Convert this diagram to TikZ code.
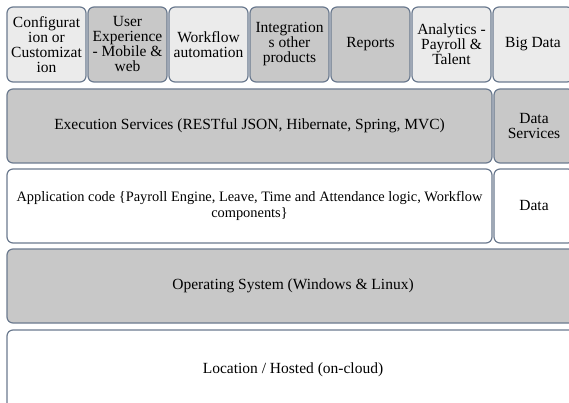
\documentclass[tikz,border=0pt]{standalone}
\usepackage{fontspec}
\setmainfont{Liberation Serif}
\newfontfamily\boxfont{Liberation Serif}
\usetikzlibrary{positioning}
\definecolor{edge}{RGB}{107,122,143}
\definecolor{lite}{RGB}{235,235,235}
\definecolor{dark}{RGB}{200,200,200}
\tikzset{
  box/.style = {draw=edge, line width=1.2pt, rounded corners=6pt,
    align=center, inner sep=0pt, font=\boxfont\fontsize{15.5}{15}\selectfont},
  cell/.style = {box, minimum width=79pt, minimum height=75pt},
  litebox/.style = {cell, fill=lite},
  darkbox/.style = {cell, fill=dark},
  wide/.style = {box, minimum width=485pt, minimum height=74pt},
  full/.style = {box, minimum width=572pt, minimum height=74pt}
}

\begin{document}
\begin{tikzpicture}[x=1pt,y=-1pt]
\useasboundingbox (0,0) rectangle (569,403);
\clip (0,0) rectangle (569,403);
% top row of features
\node [litebox] (cfg) at (46.5,44.5) {Configurat\\ion or\\Customizat\\ion};
\node [darkbox] (ux) at (127.5,44.5) {User\\Experience\\- Mobile \&\\web};
\node [litebox] (wf) at (208.5,44.5) {Workflow\\automation};
\node [darkbox] (intg) at (289.5,44.5) {Integration\\s other\\products};
\node [darkbox] (rep) at (370.5,44.5) {Reports};
\node [litebox] (ana) at (451.5,44.5) {Analytics -\\Payroll \&\\Talent};
\node [litebox, minimum width=80pt] (big) at (533,44.5) {Big Data};
% services
\node [wide, fill=dark] (exec) at (249.5,126) {Execution Services (RESTful JSON, Hibernate, Spring, MVC)};
\node [cell, fill=dark, minimum height=74pt, minimum width=80pt] (dsvc) at (534,126) {Data\\Services};
% code and data
\node [wide, fill=white, font=\boxfont\fontsize{14.4}{15.5}\selectfont] (app) at (249.5,206) {Application code \{Payroll Engine, Leave, Time and Attendance logic, Workflow\\components\}};
\node [cell, fill=white, minimum height=74pt, minimum width=80pt] (data) at (534,206) {Data};
% base layers
\node [full, fill=dark] (os) at (293,286) {Operating System (Windows \& Linux)};
\node [full, fill=white, minimum height=80pt] (loc) at (293,370) {Location / Hosted (on-cloud)};
\end{tikzpicture}
\end{document}
